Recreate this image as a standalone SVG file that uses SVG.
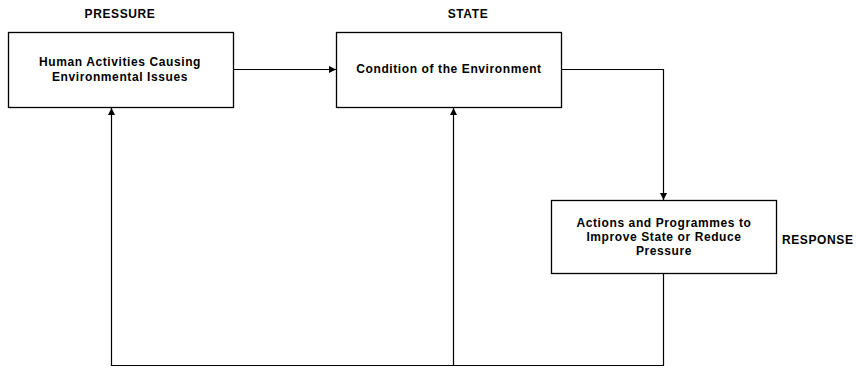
<svg xmlns="http://www.w3.org/2000/svg" width="856" height="369" viewBox="0 0 856 369">
<style>
.box{fill:#fff;stroke:#000;stroke-width:1.3}
.t{font-family:"Liberation Sans",Arial,sans-serif;font-weight:bold;font-size:12px;letter-spacing:0.6px;fill:#000;text-anchor:middle}
.c{fill:none;stroke:#000;stroke-width:1.2}
</style>
<defs>
<marker id="ah" viewBox="0 0 10 10" refX="10" refY="5" markerWidth="9" markerHeight="7" markerUnits="userSpaceOnUse" orient="auto">
<path d="M0,0 L10,5 L0,10 z" fill="#000"/>
</marker>
</defs>
<text class="t" x="120" y="18">PRESSURE</text>
<text class="t" x="468" y="18">STATE</text>
<text class="t" x="782" y="244" style="text-anchor:start">RESPONSE</text>
<g id="pressure">
<rect class="box" x="8.5" y="32.5" width="225" height="75"/>
<text class="t" x="120" y="66">Human Activities Causing</text>
<text class="t" x="120" y="81">Environmental Issues</text>
</g>
<g id="state">
<rect class="box" x="336.5" y="32.5" width="225" height="75"/>
<text class="t" x="449" y="73">Condition of the Environment</text>
</g>
<g id="response">
<rect class="box" x="551.5" y="200.5" width="225" height="73"/>
<text class="t" x="664" y="227">Actions and Programmes to</text>
<text class="t" x="664" y="241">Improve State or Reduce</text>
<text class="t" x="664" y="255">Pressure</text>
</g>
<g id="connectors">
<path class="c" d="M233.5,69.5 H336" marker-end="url(#ah)"/>
<path class="c" d="M561.5,69.5 H663.5 V200" marker-end="url(#ah)"/>
<path class="c" d="M663.5,273.5 V365.5 H111.5 V108" marker-end="url(#ah)"/>
<path class="c" d="M453.5,365.5 V108" marker-end="url(#ah)"/>
</g>
</svg>
